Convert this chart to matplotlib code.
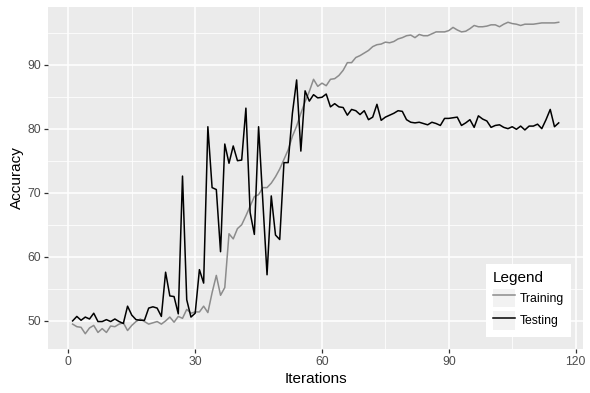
import matplotlib
matplotlib.use("Agg")
import matplotlib.pyplot as plt
from matplotlib.patches import Rectangle
from matplotlib.legend_handler import HandlerLine2D
from matplotlib.lines import Line2D
import numpy as np

plt.rcParams['font.family'] = ['Liberation Sans', 'DejaVu Sans']

iterations = list(range(1, 117))

training = [
    49.5, 49.1, 49.0, 48.0, 48.9, 49.3, 48.2, 48.8, 48.2, 49.2,
    49.1, 49.5, 49.7, 48.5, 49.3, 49.9, 50.3, 49.9, 49.5, 49.7,
    49.9, 49.5, 50.0, 50.6, 49.8, 50.7, 50.4, 51.8, 51.2, 51.4,
    51.4, 52.3, 51.3, 54.4, 57.1, 54.0, 55.2, 63.6, 62.8, 64.4,
    65.0, 66.4, 67.9, 69.4, 69.7, 70.8, 70.8, 71.5, 72.5, 73.7,
    75.2, 76.7, 78.8, 80.4, 82.4, 84.2, 85.8, 87.7, 86.6, 87.1,
    86.7, 87.7, 87.8, 88.3, 89.1, 90.3, 90.3, 91.1, 91.4, 91.8,
    92.2, 92.8, 93.1, 93.2, 93.5, 93.4, 93.6, 94.0, 94.2, 94.5,
    94.6, 94.2, 94.7, 94.5, 94.5, 94.8, 95.1, 95.1, 95.1, 95.3,
    95.8, 95.4, 95.1, 95.2, 95.6, 96.1, 95.9, 95.9, 96.0, 96.2,
    96.2, 95.9, 96.3, 96.6, 96.4, 96.3, 96.1, 96.3, 96.3, 96.3,
    96.4, 96.5, 96.5, 96.5, 96.5, 96.6,
]

testing = [
    50.0, 50.7, 50.1, 50.6, 50.3, 51.2, 49.9, 49.9, 50.2, 49.9,
    50.3, 49.9, 49.6, 52.3, 50.9, 50.2, 50.1, 50.1, 52.0, 52.2,
    52.0, 50.7, 57.6, 53.9, 53.8, 51.1, 72.6, 53.3, 50.6, 51.2,
    58.0, 55.9, 80.3, 70.8, 70.5, 60.8, 77.6, 74.6, 77.3, 75.0,
    75.1, 83.2, 66.9, 63.5, 80.3, 68.7, 57.2, 69.5, 63.4, 62.7,
    74.7, 74.7, 82.4, 87.6, 76.5, 85.9, 84.3, 85.3, 84.8, 84.9,
    85.4, 83.4, 83.9, 83.4, 83.3, 82.1, 83.0, 82.8, 82.2, 82.8,
    81.4, 81.8, 83.8, 81.3, 81.8, 82.1, 82.4, 82.8, 82.7, 81.4,
    81.0, 80.9, 81.0, 80.8, 80.6, 81.0, 80.8, 80.5, 81.6, 81.6,
    81.7, 81.8, 80.5, 80.9, 81.4, 80.2, 82.0, 81.5, 81.2, 80.2,
    80.5, 80.6, 80.2, 80.0, 80.3, 79.9, 80.4, 79.8, 80.4, 80.4,
    80.7, 80.0, 81.4, 83.0, 80.3, 80.9,
]

x_ticks = [0, 30, 60, 90, 120]
x_minor = [15, 45, 75, 105]
y_ticks = [50, 60, 70, 80, 90]
y_minor = [55, 65, 75, 85, 95]

W, H, DPI = 590, 393, 100
fig = plt.figure(figsize=(W / DPI, H / DPI), dpi=DPI)
left, right, bottom, top = 48.3, 583.0, 349.3, 6.7
ax = fig.add_axes([left / W, 1 - bottom / H, (right - left) / W, (bottom - top) / H])
ax.set_facecolor('#EBEBEB')
for s in ax.spines.values():
    s.set_visible(False)

xmin, xmax = min(iterations), max(iterations)
ex = 0.05 * (xmax - xmin)
ax.set_xlim(xmin - ex, xmax + ex)
allv = training + testing
ymin, ymax = min(allv), max(allv)
ey = 0.05 * (ymax - ymin)
ax.set_ylim(ymin - ey, ymax + ey)

ax.set_xticks(x_ticks)
ax.set_xticks(x_minor, minor=True)
ax.set_yticks(y_ticks)
ax.set_yticks(y_minor, minor=True)
ax.grid(which='major', color='white', linewidth=1.1)
ax.grid(which='minor', color='white', linewidth=0.55)
ax.set_axisbelow(True)
ax.tick_params(which='major', length=2.75, width=0.9, color='#333333',
               labelsize=8.8, labelcolor='#4D4D4D', pad=2.2)
ax.tick_params(which='minor', length=0)

ax.plot(iterations, training, color='#8C8C8C', linewidth=1.1, label='Training')
ax.plot(iterations, testing, color='black', linewidth=1.1, label='Testing')

ax.set_xlabel('Iterations', fontsize=11, color='black', labelpad=2.75)
ax.set_ylabel('Accuracy', fontsize=11, color='black', labelpad=2.75)


class KeyHandler(HandlerLine2D):
    def create_artists(self, legend, orig_handle, xdescent, ydescent,
                       width, height, fontsize, trans):
        rect = Rectangle((-xdescent, -ydescent), width, height,
                         facecolor='#F2F2F2', edgecolor='none', transform=trans)
        arts = super().create_artists(legend, orig_handle, xdescent, ydescent,
                                      width, height, fontsize, trans)
        return [rect] + list(arts)


handles, labels = ax.get_legend_handles_labels()
leg = ax.legend(handles, labels, title='Legend', loc='lower right',
                bbox_to_anchor=(0.9776, 0.035), fontsize=8.8,
                title_fontsize=11, frameon=True, fancybox=False,
                edgecolor='none', facecolor='white', framealpha=1,
                handlelength=1.8, handleheight=2.0, labelspacing=0.3,
                handletextpad=0.35, borderpad=0.6, borderaxespad=0,
                alignment='left',
                handler_map={Line2D: KeyHandler()})
leg.get_frame().set_linewidth(0)

fig.savefig('out.png', dpi=DPI)
